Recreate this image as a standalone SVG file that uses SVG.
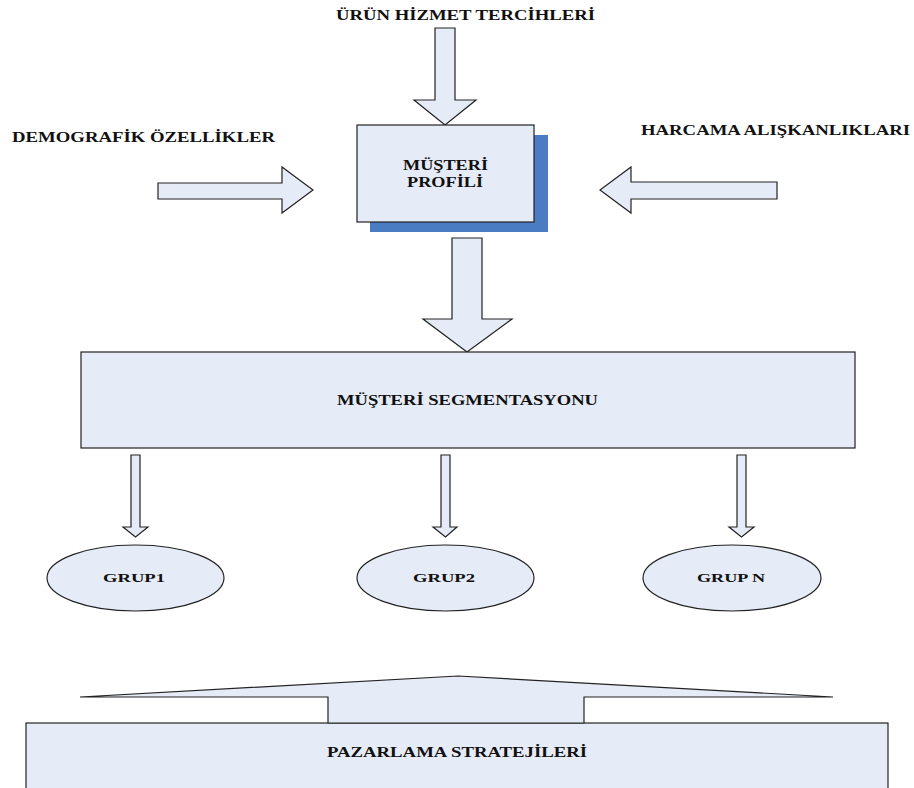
<svg xmlns="http://www.w3.org/2000/svg" width="914" height="788" viewBox="0 0 914 788">
  <style>
    .shape { fill: #E6ECF7; stroke: #222; stroke-width: 1.2; stroke-linejoin: miter; }
    .shadow { fill: #4A7CC4; }
    .lbl { font-family: "Liberation Serif", "Times New Roman", serif; font-weight: bold; fill: #111; }
    .big { font-size: 15.5px; }
    .small { font-size: 13.5px; }
  </style>
  <rect width="914" height="788" fill="#ffffff"/>

  <!-- input labels -->
  <g id="label-urun">
    <text class="lbl big" x="336" y="20" textLength="259" lengthAdjust="spacingAndGlyphs">ÜRÜN HİZMET TERCİHLERİ</text>
  </g>
  <g id="label-demografik">
    <text class="lbl big" x="12" y="142" textLength="263" lengthAdjust="spacingAndGlyphs">DEMOGRAFİK ÖZELLİKLER</text>
  </g>
  <g id="label-harcama">
    <text class="lbl big" x="641" y="135" textLength="269" lengthAdjust="spacingAndGlyphs">HARCAMA ALIŞKANLIKLARI</text>
  </g>

  <!-- block arrows -->
  <g id="connectors">
    <polygon class="shape" points="435,28 455,28 455,100 476,100 445,125 414,100 435,100"/>
    <polygon class="shape" points="158,183 282,183 282,167 313,190 282,213 282,199 158,199"/>
    <polygon class="shape" points="777,182 631,182 631,167 600,190 631,213 631,199 777,199"/>
    <polygon class="shape" points="452,238 482,238 482,319 512,319 467,352 423,319 452,319"/>
    <polygon class="shape" points="131,455 140,455 140,527 148,527 135.5,537 123,527 131,527"/>
    <polygon class="shape" points="441,455 450,455 450,527 457,527 445.5,537 433,527 441,527"/>
    <polygon class="shape" points="737,455 746,455 746,527 754,527 741.5,537 729,527 737,527"/>
  </g>

  <!-- customer profile -->
  <g id="node-profil">
    <rect class="shadow" x="370" y="135" width="178" height="97"/>
    <rect class="shape" x="357" y="125" width="177" height="97"/>
    <text class="lbl big" x="403" y="170" textLength="85" lengthAdjust="spacingAndGlyphs">MÜŞTERİ</text>
    <text class="lbl big" x="407" y="187" textLength="76" lengthAdjust="spacingAndGlyphs">PROFİLİ</text>
  </g>

  <!-- segmentation -->
  <g id="node-segmentasyon">
    <rect class="shape" x="81" y="352" width="774" height="96"/>
    <text class="lbl big" x="337" y="405" textLength="261" lengthAdjust="spacingAndGlyphs">MÜŞTERİ SEGMENTASYONU</text>
  </g>

  <!-- groups -->
  <g id="node-grup1">
    <ellipse class="shape" cx="135.5" cy="578" rx="88.5" ry="33"/>
    <text class="lbl small" x="103" y="582" textLength="62" lengthAdjust="spacingAndGlyphs">GRUP1</text>
  </g>
  <g id="node-grup2">
    <ellipse class="shape" cx="445.5" cy="578" rx="88.5" ry="33"/>
    <text class="lbl small" x="413" y="582" textLength="62" lengthAdjust="spacingAndGlyphs">GRUP2</text>
  </g>
  <g id="node-grupn">
    <ellipse class="shape" cx="732" cy="578" rx="89" ry="33"/>
    <text class="lbl small" x="697" y="582" textLength="68" lengthAdjust="spacingAndGlyphs">GRUP N</text>
  </g>

  <!-- marketing strategies -->
  <g id="node-pazarlama">
    <rect class="shape" x="26" y="723" width="862" height="80"/>
    <polygon class="shape" points="80,697 458,676 833,697 584,697 584,723 328,723 328,697"/>
    <text class="lbl big" x="327" y="757" textLength="260" lengthAdjust="spacingAndGlyphs">PAZARLAMA STRATEJİLERİ</text>
  </g>
</svg>
